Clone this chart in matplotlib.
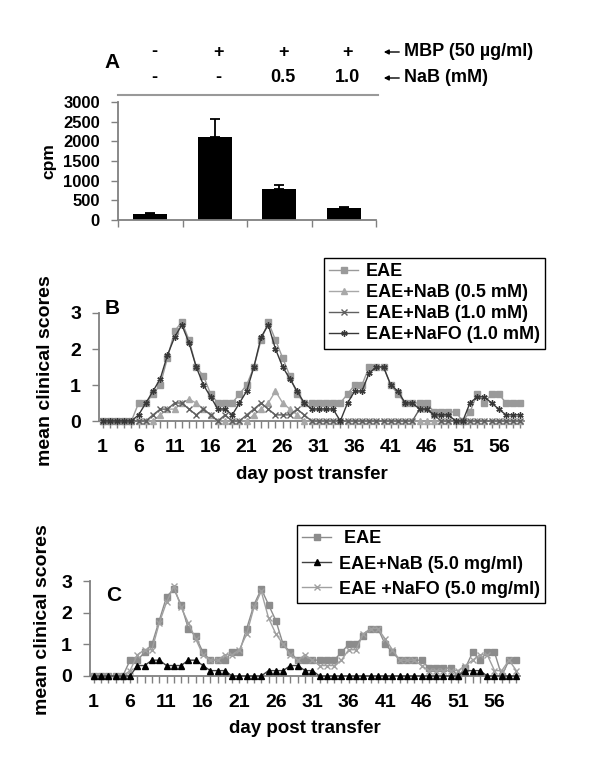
import numpy as np
import matplotlib
matplotlib.use('Agg')
import matplotlib.pyplot as plt
from matplotlib.lines import Line2D
import matplotlib.transforms as mtransforms

plt.rcParams['font.family'] = ['Liberation Sans', 'DejaVu Sans']
plt.rcParams['font.weight'] = 'bold'

# panel A : proliferation (cpm)
mbp_row = ['-', '+', '+', '+']
nab_row = ['-', '-', '0.5', '1.0']
cpm_mean = [145, 2110, 790, 295]
cpm_err = [40, 470, 100, 25]

# panels B and C : mean clinical scores, day 1..59
days = np.arange(1, 60)
day_labels = [str(d) if (d - 1) % 5 == 0 else '' for d in days]

b_eae = [0, 0, 0, 0, 0, 0.5, 0.5, 0.75, 1.0, 1.75,
         2.5, 2.75, 2.25, 1.5, 1.25, 0.75, 0.5, 0.5, 0.5, 0.75,
         1.0, 1.5, 2.25, 2.75, 2.25, 1.75, 1.25, 0.75, 0.5, 0.5,
         0.5, 0.5, 0.5, 0.5, 0.75, 1.0, 1.0, 1.5, 1.5, 1.5,
         1.0, 0.75, 0.5, 0.5, 0.5, 0.5, 0.25, 0.25, 0.25, 0.25,
         0, 0.25, 0.75, 0.5, 0.75, 0.75, 0.5, 0.5, 0.5]
b_nab05 = [0, 0, 0, 0, 0, 0, 0, 0, 0.17, 0.33,
           0.33, 0.5, 0.6, 0.5, 0.33, 0.17, 0, 0, 0, 0,
           0, 0.17, 0.33, 0.5, 0.83, 0.5, 0.33, 0.17, 0, 0,
           0, 0, 0, 0, 0, 0, 0, 0, 0, 0,
           0, 0, 0, 0, 0, 0, 0, 0, 0, 0,
           0, 0, 0, 0, 0, 0, 0, 0, 0]
b_nab10 = [0, 0, 0, 0, 0, 0, 0, 0.17, 0.33, 0.33,
           0.5, 0.5, 0.33, 0.17, 0.33, 0.17, 0, 0.17, 0, 0,
           0.17, 0.33, 0.5, 0.33, 0.17, 0.17, 0.17, 0.33, 0.17, 0,
           0, 0, 0, 0, 0, 0, 0, 0, 0, 0,
           0, 0, 0, 0, 0.33, 0.33, 0.17, 0, 0, 0,
           0, 0, 0, 0, 0, 0, 0, 0, 0]
b_nafo = [0, 0, 0, 0, 0, 0.17, 0.5, 0.83, 1.17, 1.83,
          2.33, 2.67, 2.17, 1.5, 1.0, 0.67, 0.33, 0.33, 0.17, 0.5,
          0.83, 1.5, 2.33, 2.67, 2.0, 1.5, 1.17, 0.83, 0.5, 0.33,
          0.33, 0.33, 0.33, 0, 0.5, 0.83, 0.83, 1.33, 1.5, 1.5,
          1.0, 0.83, 0.5, 0.5, 0.33, 0.33, 0.17, 0.17, 0.17, 0,
          0, 0.5, 0.67, 0.67, 0.5, 0.33, 0.17, 0.17, 0.17]

c_eae = [0, 0, 0, 0, 0, 0.5, 0.5, 0.75, 1.0, 1.75,
         2.5, 2.75, 2.25, 1.5, 1.25, 0.75, 0.5, 0.5, 0.5, 0.75,
         0.75, 1.5, 2.25, 2.75, 2.25, 1.75, 1.0, 0.75, 0.5, 0.5,
         0.5, 0.5, 0.5, 0.5, 0.75, 1.0, 1.0, 1.25, 1.5, 1.5,
         1.0, 0.75, 0.5, 0.5, 0.5, 0.5, 0.25, 0.25, 0.25, 0.25,
         0, 0.25, 0.75, 0.5, 0.75, 0.75, 0, 0.5, 0.5]
c_nab5 = [0, 0, 0, 0, 0, 0, 0.33, 0.33, 0.5, 0.5,
          0.33, 0.33, 0.33, 0.5, 0.5, 0.33, 0.17, 0.17, 0.17, 0,
          0, 0, 0, 0, 0.17, 0.17, 0.17, 0.33, 0.33, 0.17,
          0.17, 0, 0, 0, 0, 0, 0, 0, 0, 0,
          0, 0, 0, 0, 0, 0, 0, 0, 0, 0,
          0, 0.17, 0.17, 0.17, 0, 0, 0, 0, 0]
c_nafo = [0, 0, 0, 0, 0, 0.17, 0.67, 0.83, 0.83, 1.67,
          2.33, 2.83, 2.17, 1.67, 1.17, 0.67, 0.5, 0.5, 0.67, 0.67,
          0.83, 1.33, 2.17, 2.67, 1.83, 1.33, 1.0, 0.67, 0.5, 0.67,
          0.5, 0.33, 0.33, 0.33, 0.5, 0.83, 0.83, 1.33, 1.5, 1.5,
          1.17, 0.83, 0.5, 0.5, 0.5, 0.33, 0.17, 0.17, 0.17, 0.17,
          0.17, 0.33, 0.5, 0.67, 0.67, 0.17, 0.17, 0.5, 0.17]

W, H = 600, 759
fig = plt.figure(figsize=(6, 7.59), dpi=100)


def box(l, t, r, b):
    return [l / W, 1 - b / H, (r - l) / W, (b - t) / H]


def style(ax, size):
    for s in ['top', 'right']:
        ax.spines[s].set_visible(False)
    for s in ['left', 'bottom']:
        ax.spines[s].set_color('#808080')
        ax.spines[s].set_linewidth(1.3)
    ax.tick_params(colors='#808080', labelcolor='black', length=5, width=1,
                   direction='out', labelsize=size, pad=8)


axA = fig.add_axes(box(118, 102, 376, 220))
axB = fig.add_axes(box(99, 313, 524, 421))
axC = fig.add_axes(box(90, 581, 520, 676))

# ---- A
xa = np.arange(len(cpm_mean))
axA.bar(xa, cpm_mean, width=0.52, color='black', zorder=2)
axA.errorbar(xa, cpm_mean, yerr=[np.zeros(len(cpm_err)), cpm_err], fmt='none',
             ecolor='black', elinewidth=1.3, capsize=3.5, capthick=1.3, zorder=3)
axA.set_xlim(-0.5, 3.5)
axA.set_ylim(0, 3000)
axA.set_yticks(range(0, 3001, 500))
axA.set_xticks(np.arange(-0.5, 4, 1))
axA.set_xticklabels([])
style(axA, 12)
axA.set_ylabel('cpm', fontsize=12.5, fontweight='bold')
axA.yaxis.set_label_coords(-0.24, 0.5)

tr = mtransforms.blended_transform_factory(axA.transData, fig.transFigure)
for i in range(4):
    axA.text(i + 0.06, 1 - 52 / H, mbp_row[i], transform=tr, ha='center', va='center', fontsize=13)
    axA.text(i + 0.06, 1 - 78 / H, nab_row[i], transform=tr, ha='center', va='center', fontsize=13)
fig.text(112 / W, 1 - 63 / H, 'A', fontsize=15, ha='center', va='center')
for y, lab in [(52, 'MBP (50 µg/ml)'), (78, 'NaB (mM)')]:
    fig.text(404 / W, 1 - y / H, lab, fontsize=13, va='center')
    axA.annotate('', xy=(381 / W, 1 - y / H), xytext=(402 / W, 1 - y / H),
                 xycoords='figure fraction', textcoords='figure fraction',
                 arrowprops=dict(arrowstyle='-|>', color='black', lw=1, mutation_scale=7),
                 annotation_clip=False)
fig.add_artist(Line2D([118 / W, 378 / W], [1 - 95 / H] * 2, color='#999999', lw=1.5))

# ---- B
axB.plot(days, b_eae, color='#9a9a9a', marker='s', ms=3.8, lw=1, label='EAE', clip_on=False, zorder=3)
axB.plot(days, b_nab05, color='#a8a8a8', marker='^', ms=4, lw=1, label='EAE+NaB (0.5 mM)', clip_on=False, zorder=3)
axB.plot(days, b_nab10, color='#606060', marker='x', ms=4.5, mew=1, lw=1, label='EAE+NaB (1.0 mM)', clip_on=False, zorder=3)
axB.plot(days, b_nafo, color='#383838', marker=(6, 2, 0), ms=4.5, mew=1, lw=1, label='EAE+NaFO (1.0 mM)', clip_on=False, zorder=4)

# ---- C
axC.plot(days, c_eae, color='#8c8c8c', marker='s', ms=3.8, lw=1, label=' EAE', clip_on=False, zorder=3)
axC.plot(days, c_nab5, color='#404040', marker='^', ms=4.2, mfc='black', mec='black', lw=1, label='EAE+NaB (5.0 mg/ml)', clip_on=False, zorder=4)
axC.plot(days, c_nafo, color='#a0a0a0', marker='x', ms=4.5, mew=1, lw=1, label='EAE +NaFO (5.0 mg/ml)', clip_on=False, zorder=3)

for ax, letter, let_pos, leg_box, ls in [(axB, 'B', (0.031, 1.04), (545, 258), 0.22),
                                         (axC, 'C', (0.054, 0.85), (545, 525), 0.45)]:
    ax.set_xlim(0.5, 59.5)
    ax.set_ylim(0, 3)
    ax.set_yticks([0, 1, 2, 3])
    ax.set_xticks(days)
    ax.set_xticklabels(day_labels)
    style(ax, 14)
    ax.set_ylabel('mean clinical scores', fontsize=14, fontweight='bold')
    ax.set_xlabel('day post transfer', fontsize=13.5, fontweight='bold')
    ax.text(let_pos[0], let_pos[1], letter, transform=ax.transAxes, fontsize=15, ha='center', va='center')
    leg = ax.legend(loc='upper right', bbox_to_anchor=(leg_box[0] / W, 1 - leg_box[1] / H),
                    bbox_transform=fig.transFigure, fancybox=False, edgecolor='black',
                    framealpha=1, fontsize=13, handlelength=1.6, handletextpad=0.4,
                    labelspacing=ls, borderpad=0.3, borderaxespad=0)
    leg.get_frame().set_linewidth(1)

axB.yaxis.set_label_coords(-0.105, 0.47)
axB.xaxis.set_label_coords(0.5, -0.42)
axC.yaxis.set_label_coords(-0.09, 0.59)
axC.xaxis.set_label_coords(0.5, -0.46)

plt.savefig('out.png', dpi=100)
